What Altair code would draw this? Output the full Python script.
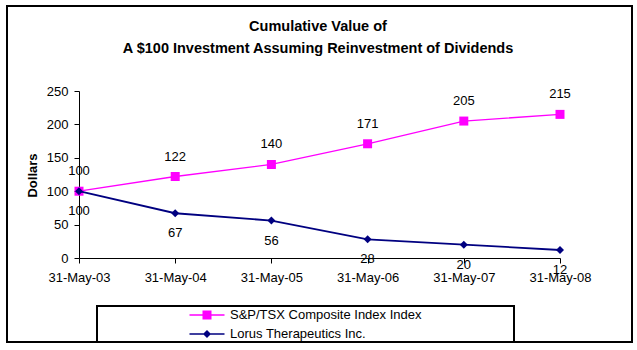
import altair as alt
import pandas as pd

# ---- data ----
dates = ["31-May-03", "31-May-04", "31-May-05", "31-May-06", "31-May-07", "31-May-08"]
sp_values = [100, 122, 140, 171, 205, 215]
lorus_values = [100, 67, 56, 28, 20, 12]
series_names = ["S&P/TSX Composite Index Index", "Lorus Therapeutics Inc."]
series_colors = ["#FF00FF", "#000080"]
title_lines = ["Cumulative Value of", "A $100 Investment Assuming Reinvestment of Dividends"]
y_ticks = [0, 50, 100, 150, 200, 250]
y_title = "Dollars"

df = pd.DataFrame({
    "date": dates * 2,
    "series": [series_names[0]] * len(dates) + [series_names[1]] * len(dates),
    "value": sp_values + lorus_values,
})
one = pd.DataFrame({"k": [0]})

FONT = "Liberation Sans"

x_enc = alt.X(
    "date:O", sort=dates,
    scale=alt.Scale(type="point", padding=0),
    axis=alt.Axis(title=None, labelAngle=0, labelFont=FONT, labelFontSize=13,
                  labelColor="black", tickColor="black", domainColor="black",
                  tickSize=5, labelPadding=8.5, domainWidth=1, tickWidth=1),
)
y_enc = alt.Y(
    "value:Q",
    scale=alt.Scale(domain=[0, 250], nice=False, zero=True),
    axis=alt.Axis(values=y_ticks, title=y_title, grid=False, labelFont=FONT,
                  labelFontSize=13, labelColor="black", tickColor="black",
                  domainColor="black", tickSize=5, labelPadding=6,
                  titleFont=FONT, titleFontSize=13, titleFontWeight="bold",
                  titleColor="black", titleX=-40, titleY=84),
)

base = alt.Chart(df)
layers = []

# decorative frames
frame = alt.Chart(one).mark_rect(fillOpacity=0, stroke="black", strokeWidth=2).encode(
    x=alt.value(-72), x2=alt.value(553), y=alt.value(-85), y2=alt.value(251))
legend_box = alt.Chart(one).mark_rect(fillOpacity=0, stroke="black", strokeWidth=2).encode(
    x=alt.value(18), x2=alt.value(435), y=alt.value(215), y2=alt.value(251))
title = alt.Chart(one).mark_text(font=FONT, fontSize=14.5, fontWeight="bold",
                                 align="center", baseline="top", lineHeight=22,
                                 color="black").encode(
    text=alt.value(title_lines), x=alt.value(239), y=alt.value(-71))
layers += [frame, legend_box, title]

shapes = ["square", "diamond"]
sizes = [81, 64]
widths = [1.3, 1.8]
dys = [-20, 20]
for name, color, shp, sz, w, dy in zip(series_names, series_colors, shapes, sizes, widths, dys):
    sub = base.transform_filter(alt.datum.series == name)
    layers.append(sub.mark_line(color=color, strokeWidth=w).encode(x=x_enc, y=y_enc))
    layers.append(sub.mark_point(shape=shp, filled=True, size=sz, color=color, opacity=1)
                  .encode(x=x_enc, y=y_enc))
    layers.append(sub.mark_text(dy=dy, font=FONT, fontSize=13, color="black", baseline="middle")
                  .encode(x=x_enc, y=y_enc, text="value:Q"))

# legend symbols: line + marker
sq_path = "M-3.89,-0.17L3.89,-0.17L3.89,0.17L-3.89,0.17Z M-1,-1L1,-1L1,1L-1,1Z"
dm_path = "M-3.89,-0.17L3.89,-0.17L3.89,0.17L-3.89,0.17Z M0,-0.89L0.89,0L0,0.89L-0.89,0Z"
leg = alt.Legend(title=None, orient="none", legendX=121.5, legendY=217.5,
                 labelFont=FONT, labelFontSize=13, labelColor="black",
                 symbolSize=81, symbolStrokeWidth=0, labelOffset=16.5,
                 rowPadding=5, padding=0, labelLimit=400, symbolOpacity=1)
legend_layer = base.mark_point(filled=True, opacity=1).encode(
    color=alt.Color("series:N", scale=alt.Scale(domain=series_names, range=series_colors), legend=leg),
    shape=alt.Shape("series:N", scale=alt.Scale(domain=series_names, range=[sq_path, dm_path]), legend=leg),
).transform_filter("false")
layers.append(legend_layer)

chart = alt.layer(*layers).properties(
    width=481, height=167,
    autosize=alt.AutoSizeParams(type="none"),
    padding={"left": 79, "top": 91, "right": 77, "bottom": 92},
    background="white",
).configure_view(stroke=None)

chart.save("out.html", embed_options={"renderer": "svg", "actions": False})
